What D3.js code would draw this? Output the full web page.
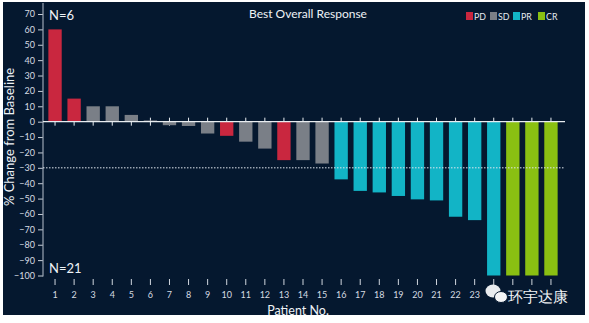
<!DOCTYPE html>
<html>
<head>
<meta charset="utf-8">
<script src="https://cdn.jsdelivr.net/npm/d3@7"></script>
<style>
  html, body { margin: 0; padding: 0; background: #ffffff; }
  svg { display: block; }
  text { font-family: Lato, "Open Sans", sans-serif; }
</style>
</head>
<body>
<svg id="chart" width="589" height="323"></svg>
<script>
// ---- data ----
const patients = d3.range(1, 28).map(String);
const changes = [60, 15, 10, 10, 4.4, 0.8, -2.3, -2.8, -7.7, -9.2, -13, -17.5, -25, -25, -27.2,
                 -37.5, -45, -46, -48.3, -50.5, -51.2, -61.8, -64, -100, -100, -100, -100];
const responses = ["PD","PD","SD","SD","SD","SD","SD","SD","SD","PD","SD","SD","PD","SD","SD",
                   "PR","PR","PR","PR","PR","PR","PR","PR","PR","CR","CR","CR"];
const categories = ["PD", "SD", "PR", "CR"];
const categoryColors = ["#c9273f", "#7a7f87", "#12b4c6", "#8ac012"];
const yTicks = [70, 60, 50, 40, 30, 20, 10, 0, -10, -20, -30, -40, -50, -60, -70, -80, -90, -100];
const xTickLabels = d3.range(1, 24).map(String);
const thresholdValue = -30;
const title = "Best Overall Response";
const yTitle = "% Change from Baseline";
const xTitle = "Patient No.";
const countTop = "N=6";
const countBottom = "N=21";
const watermark = "环宇达康";

// ---- layout ----
const svg = d3.select("#chart");
const bg = "#05182f";
svg.append("rect").attr("x", 3).attr("y", 2).attr("width", 582).attr("height", 313).attr("fill", bg);

const x = d3.scaleBand().domain(patients).range([45.5, 560.5]).paddingInner(0.3).paddingOuter(0.15);
const y = d3.scaleLinear().domain([-100, 70]).range([275.5, 14]);
const color = d3.scaleOrdinal().domain(categories).range(categoryColors);
const axisX = 43;
const lineEnd = 565;

// y axis
const yAxis = svg.append("g").attr("transform", `translate(${axisX},0)`)
  .call(d3.axisLeft(y).tickValues(yTicks).tickSize(5).tickPadding(3).tickFormat(d3.format("d")));
yAxis.select(".domain").remove();
yAxis.selectAll(".tick line").attr("stroke", "#c8cfd8").attr("stroke-width", 1);
yAxis.selectAll(".tick text").attr("fill", "#d6dbe2").attr("font-size", 9).attr("font-family", "Lato, sans-serif");
svg.append("line").attr("x1", axisX).attr("x2", axisX).attr("y1", 3).attr("y2", y(-100) + 1)
  .attr("stroke", "#9aa6b4").attr("stroke-width", 1.2);

// ticks crossing zero line (drawn under bars)
svg.append("g").selectAll("line").data(patients).join("line")
  .attr("x1", d => x(d) + x.bandwidth() / 2).attr("x2", d => x(d) + x.bandwidth() / 2)
  .attr("y1", y(0) - 4).attr("y2", y(0) + 4)
  .attr("stroke", "#e8ecf0").attr("stroke-width", 1);

// bars
svg.append("g").selectAll("rect").data(patients).join("rect")
  .attr("x", d => x(d))
  .attr("width", x.bandwidth())
  .attr("y", (d, i) => y(Math.max(0, changes[i])))
  .attr("height", (d, i) => Math.abs(y(changes[i]) - y(0)))
  .attr("fill", (d, i) => color(responses[i]));

// zero line
svg.append("line").attr("x1", axisX).attr("x2", lineEnd).attr("y1", y(0)).attr("y2", y(0))
  .attr("stroke", "#e8ecf0").attr("stroke-width", 1.3);
// threshold dotted line
svg.append("line").attr("x1", axisX).attr("x2", lineEnd).attr("y1", y(thresholdValue)).attr("y2", y(thresholdValue))
  .attr("stroke", "#dfe6ee").attr("stroke-width", 1).attr("stroke-dasharray", "1.5,1.5");

// bottom x axis (ticks + labels, no domain)
const xAxis = svg.append("g").attr("transform", `translate(0,279)`)
  .call(d3.axisBottom(x).tickSize(6).tickPadding(7)
    .tickFormat(d => xTickLabels.includes(d) ? d : ""));
xAxis.select(".domain").remove();
xAxis.selectAll(".tick line").attr("stroke", "#d0d6de").attr("stroke-width", 1);
xAxis.selectAll(".tick text").attr("fill", "#d6dbe2").attr("font-size", 9).attr("font-family", "Lato, sans-serif");

// titles
svg.append("text").attr("x", 308).attr("y", 18).attr("text-anchor", "middle")
  .attr("fill", "#eef2f6").attr("font-size", 12).text(title);
svg.append("text").attr("transform", "translate(14,137) rotate(-90)").attr("text-anchor", "middle")
  .attr("fill", "#eef2f6").attr("font-size", 13).text(yTitle);
svg.append("text").attr("x", 298).attr("y", 315).attr("text-anchor", "middle")
  .attr("fill", "#eef2f6").attr("font-size", 12.5).text(xTitle);
svg.append("text").attr("x", 49).attr("y", 20).attr("fill", "#eef2f6").attr("font-size", 13).text(countTop);
svg.append("text").attr("x", 49).attr("y", 273).attr("fill", "#eef2f6").attr("font-size", 13).text(countBottom);

// legend
const legendX = [466, 490, 513, 538];
const lg = svg.append("g").selectAll("g").data(categories).join("g")
  .attr("transform", (d, i) => `translate(${legendX[i]},12)`);
lg.append("rect").attr("width", 7).attr("height", 8).attr("fill", d => color(d));
lg.append("text").attr("x", 8).attr("y", 7.8).attr("fill", "#e6ebf0").attr("font-size", 8.8).text(d => d);

// watermark (WeChat-like bubbles + text)
const wm = svg.append("g");
wm.append("ellipse").attr("cx", 493).attr("cy", 291).attr("rx", 7.5).attr("ry", 6.5).attr("fill", "#e9ecef");
wm.append("ellipse").attr("cx", 501).attr("cy", 297).attr("rx", 6.5).attr("ry", 5.5).attr("fill", "#f4f5f6").attr("stroke", bg).attr("stroke-width", 1);
wm.append("text").attr("x", 508).attr("y", 302).attr("fill", "#f2f4f6").attr("font-size", 14.5)
  .attr("font-family", "'Noto Sans CJK SC', sans-serif").text(watermark);
</script>
</body>
</html>
